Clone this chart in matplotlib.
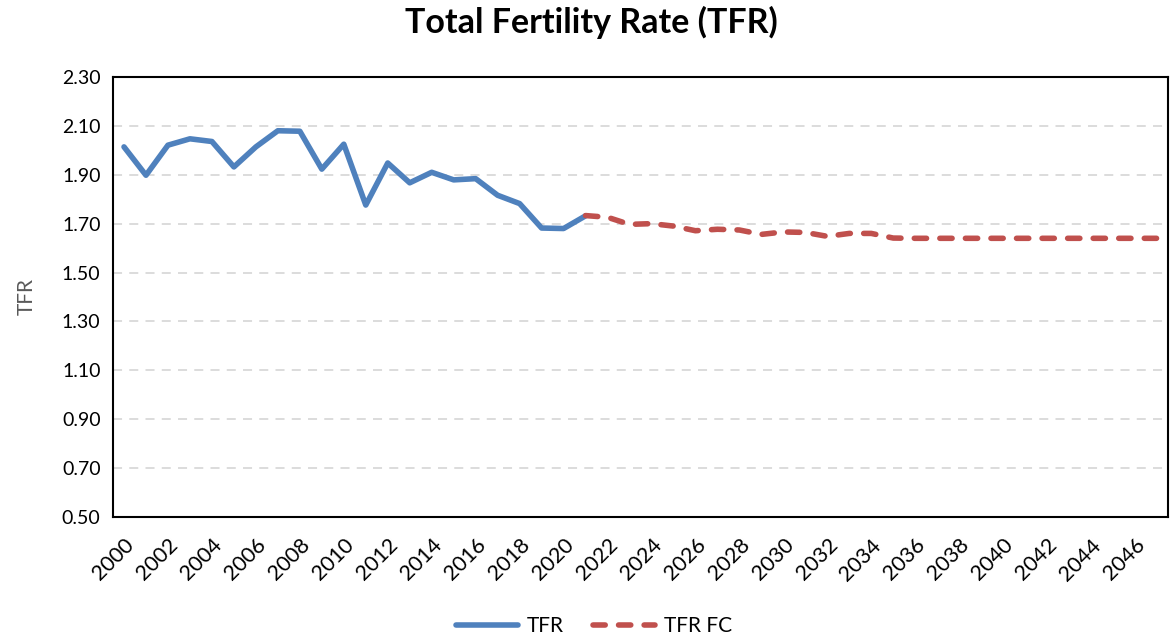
import matplotlib
matplotlib.use("Agg")
import matplotlib.pyplot as plt
import numpy as np

years = list(range(2000, 2048))
tfr_years = list(range(2000, 2022))
tfr = [2.014, 1.898, 2.021, 2.047, 2.036, 1.932, 2.014, 2.080, 2.078, 1.923,
       2.025, 1.776, 1.948, 1.867, 1.910, 1.879, 1.884, 1.816, 1.782, 1.682,
       1.680, 1.732]
fc_years = list(range(2021, 2048))
tfr_fc = [1.733, 1.726, 1.697, 1.700, 1.690, 1.671, 1.677, 1.674, 1.656, 1.666,
          1.664, 1.648, 1.660, 1.660, 1.641, 1.640, 1.640, 1.640, 1.640, 1.640,
          1.640, 1.640, 1.640, 1.640, 1.640, 1.640, 1.640]
yticks = [0.50, 0.70, 0.90, 1.10, 1.30, 1.50, 1.70, 1.90, 2.10, 2.30]

plt.rcParams['font.family'] = ['Lato', 'DejaVu Sans']

fig = plt.figure(figsize=(11.76, 6.36), dpi=100)
ax = fig.add_axes([0.0961, 0.1871, 0.8971, 0.6919])

idx = {y: i for i, y in enumerate(years)}
xb = [idx[y] for y in tfr_years]
xr = [idx[y] for y in fc_years]

ax.plot(xb, tfr, color='#4F81BD', lw=4.0, solid_capstyle='round',
        solid_joinstyle='round', label='TFR', zorder=3)
ax.plot(xr, tfr_fc, color='#C0504D', lw=4.0, dash_capstyle='round',
        linestyle=(0, (2.2, 2.4)), label='TFR FC', zorder=4)

ax.set_xlim(-0.5, len(years) - 0.5)
ax.set_ylim(0.5, 2.3)
ax.set_yticks(yticks)
ax.set_yticklabels([f"{v:.2f}" for v in yticks], fontsize=14)
ax.set_xticks(range(0, len(years), 2))
ax.set_xticklabels([str(y) for y in years[::2]], rotation=45, ha='right',
                   rotation_mode='anchor', fontsize=15.5)
ax.tick_params(axis='y', length=0, pad=9)
ax.tick_params(axis='x', length=0, pad=13)

for v in yticks[1:-1]:
    ax.axhline(v, color='#D9D9D9', lw=1.3, linestyle=(0, (5, 4)), zorder=1)

for s in ax.spines.values():
    s.set_color('black')
    s.set_linewidth(1.5)

ax.set_ylabel('TFR', fontsize=15, color='#595959', labelpad=18)

fig.suptitle('Total Fertility Rate (TFR)', fontsize=24.5, fontweight='bold',
             y=0.99, x=0.503)

fig.legend(loc='center', bbox_to_anchor=(0.505, 0.015), ncol=2,
           frameon=False, fontsize=15, handlelength=3.0, columnspacing=1.4,
           handletextpad=0.4)

fig.savefig('out.png', dpi=100)
